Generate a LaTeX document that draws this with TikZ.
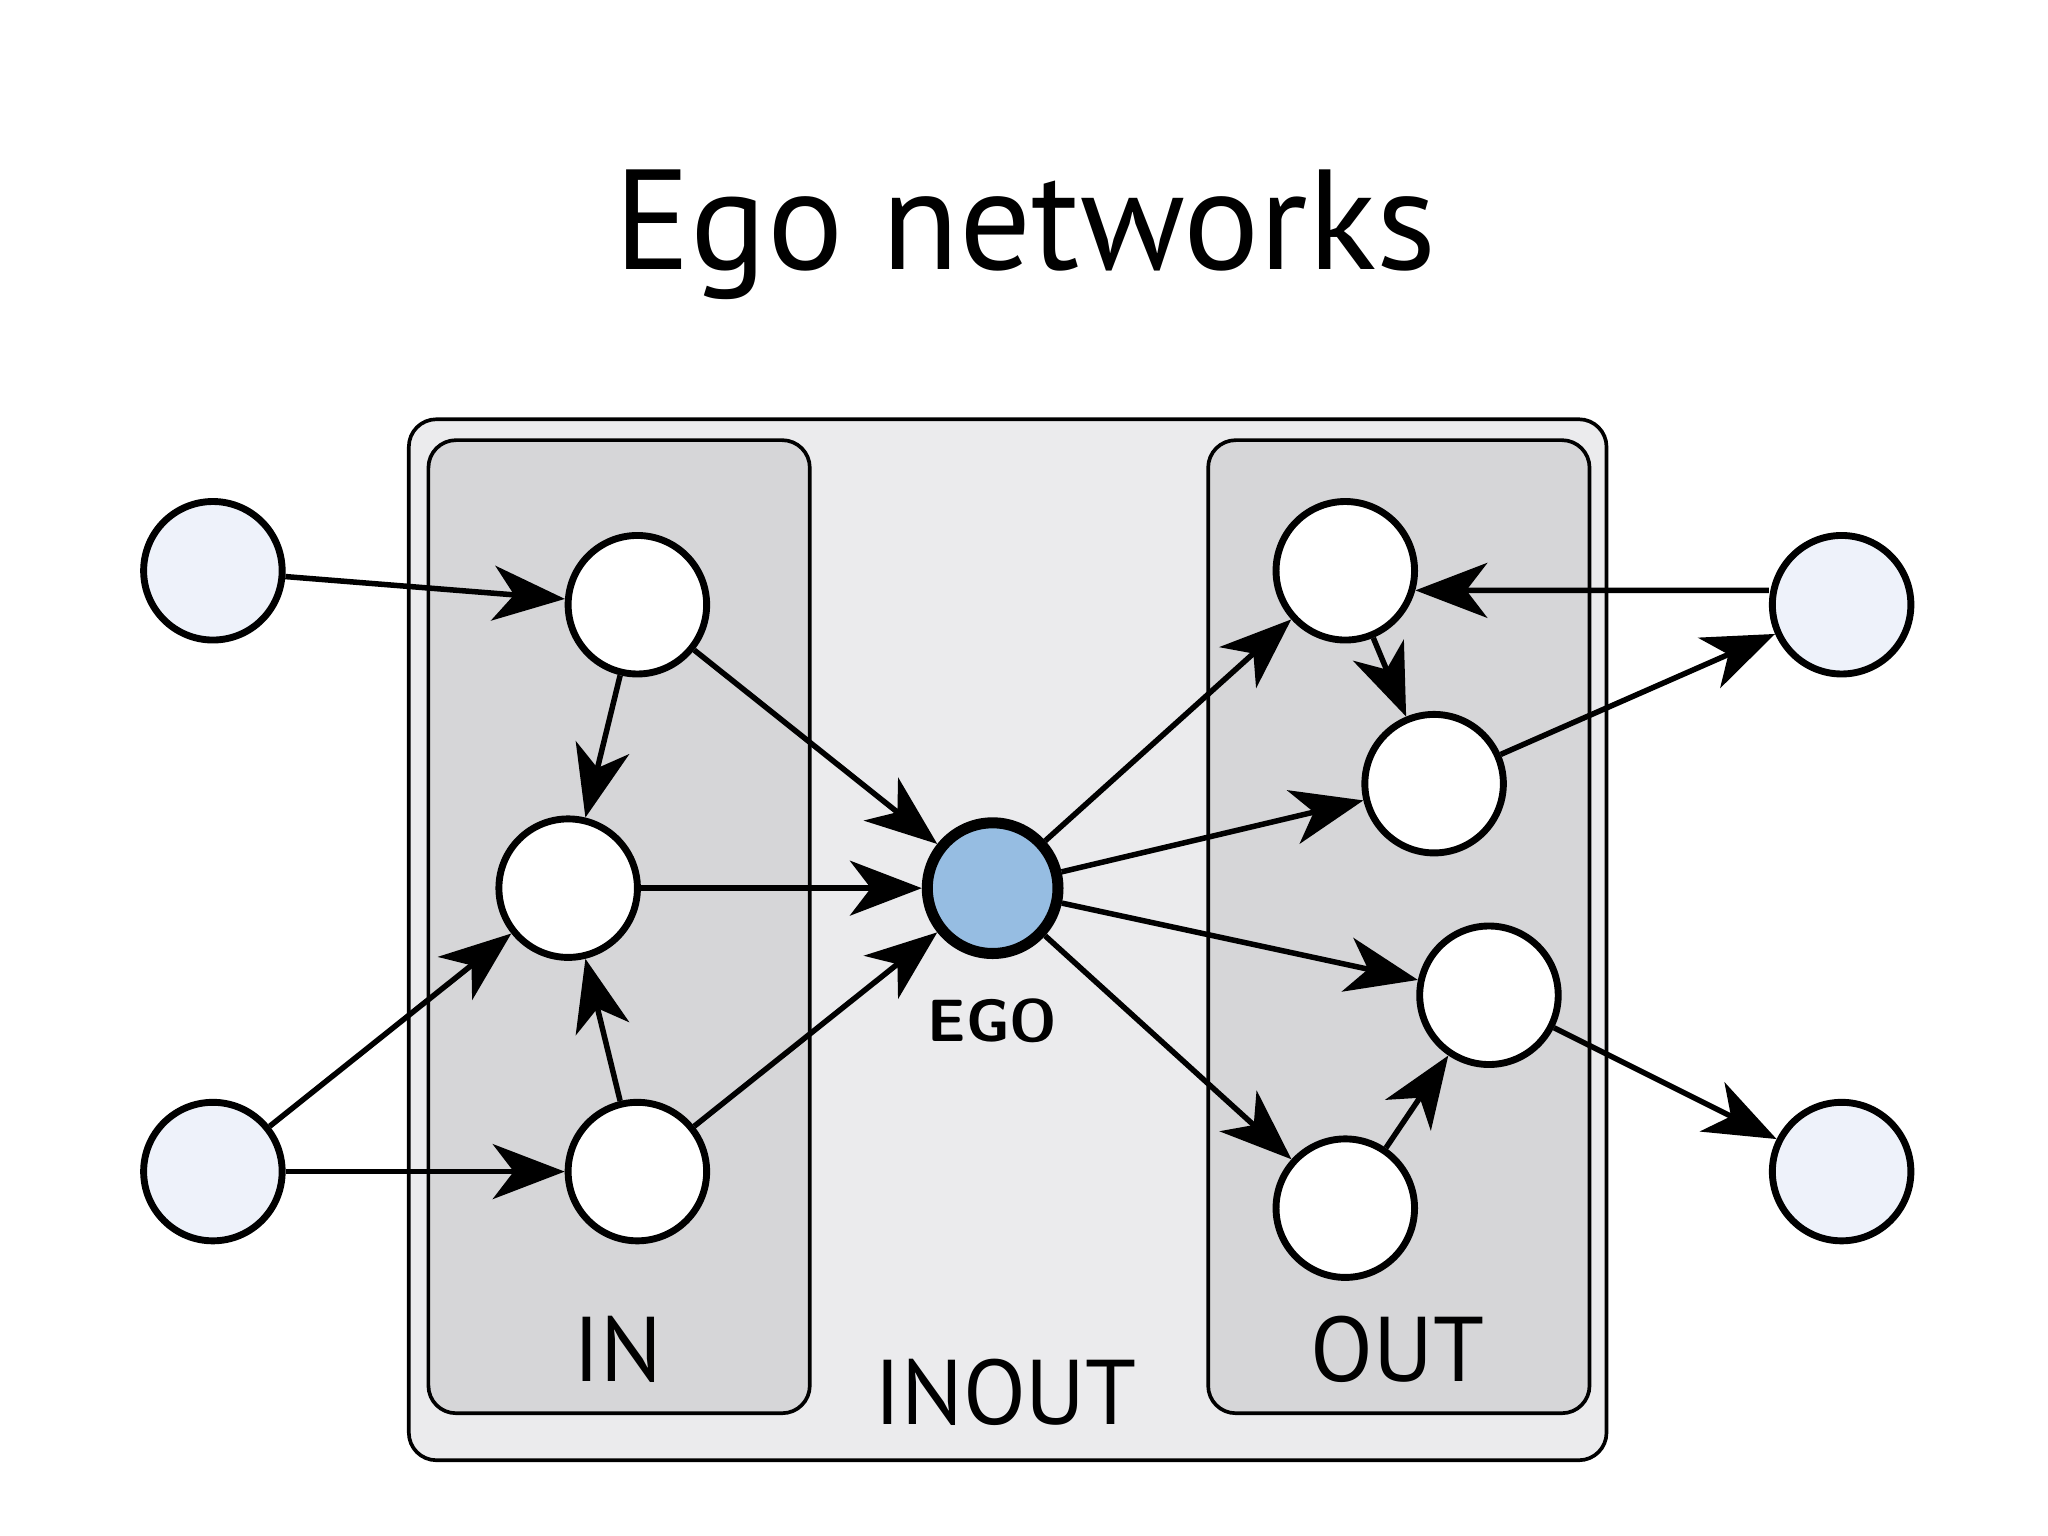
\documentclass[tikz,border=0pt]{standalone}
\usepackage{fontspec}
\setmainfont{PT Sans}
\usetikzlibrary{arrows.meta,positioning}
\definecolor{egoblue}{HTML}{96BDE2}
\definecolor{extfill}{HTML}{EEF2FA}
\definecolor{inoutfill}{HTML}{EBEBED}
\definecolor{sidefill}{HTML}{D6D6D8}
\tikzset{
    % Plain member node
    member/.style={
        circle,
        draw=black,
        fill=white,
        line width=1.5pt,
        minimum size=1.06cm,
        inner sep=0pt
    },
    % Node outside the ego network
    outsider/.style={
        member,
        fill=extfill
    },
    % Ego node
    egonode/.style={
        member,
        fill=egoblue,
        line width=2.4pt,
        minimum size=1.0cm
    },
    % Group box
    groupbox/.style={
        rectangle,
        rounded corners=6pt,
        draw=black,
        line width=0.8pt
    },
    % Arrow style
    egoarrow/.style={
        -{Stealth[length=0.55cm,width=0.42cm,inset=0.16cm]},
        line width=1.2pt
    },
    boxlabel/.style={font=\fontsize{20}{22}\selectfont}
}
\begin{document}
\begin{tikzpicture}[x=0.01cm,y=-0.01cm]
    \useasboundingbox (0,0) rectangle (1568,1176);

    % Title
    \node[font=\fontsize{31}{34}\selectfont] (title) at (785,180) {Ego networks};

    % Group boxes
    \draw[groupbox, fill=inoutfill] (313,321) rectangle (1230,1118);
    \draw[groupbox, fill=sidefill] (328,337) rectangle (620,1082);
    \draw[groupbox, fill=sidefill] (925,337) rectangle (1217,1082);

    % Box labels
    \node[boxlabel] (inlabel) at (473,1033) {IN};
    \node[boxlabel] (inoutlabel) at (770,1066) {INOUT};
    \node[boxlabel] (outlabel) at (1070,1033) {OUT};

    % Outside nodes
    \node[outsider] (left1) at (163,437) {};
    \node[outsider] (left2) at (163,897) {};
    \node[outsider] (right1) at (1410,463) {};
    \node[outsider] (right2) at (1410,897) {};

    % IN nodes
    \node[member] (in1) at (488,463) {};
    \node[member] (in2) at (435,680) {};
    \node[member] (in3) at (488,897) {};

    % Ego
    \node[egonode] (ego) at (760,680) {};
    \node[font=\sffamily\bfseries\fontsize{13}{15}\selectfont, below=0.18cm of ego] (egolabel) {EGO};

    % OUT nodes
    \node[member] (out1) at (1030,437) {};
    \node[member] (out2) at (1098,600) {};
    \node[member] (out3) at (1140,762) {};
    \node[member] (out4) at (1030,925) {};

    % Arrows
    \draw[egoarrow] (left1) -- (in1);
    \draw[egoarrow] (left2) -- (in2);
    \draw[egoarrow] (left2) -- (in3);
    \draw[egoarrow] (in1) -- (in2);
    \draw[egoarrow] (in3) -- (in2);
    \draw[egoarrow] (in1) -- (ego);
    \draw[egoarrow] (in2) -- (ego);
    \draw[egoarrow] (in3) -- (ego);
    \draw[egoarrow] (ego) -- (out1);
    \draw[egoarrow] (ego) -- (out2);
    \draw[egoarrow] (ego) -- (out3);
    \draw[egoarrow] (ego) -- (out4);
    \draw[egoarrow] (out1) -- (out2);
    \draw[egoarrow] (out4) -- (out3);
    \draw[egoarrow] ([yshift=0.11cm]right1.west) -- ([yshift=-0.15cm,xshift=-0.02cm]out1.east);
    \draw[egoarrow] (out2) -- (right1);
    \draw[egoarrow] (out3) -- (right2);

\end{tikzpicture}
\end{document}
